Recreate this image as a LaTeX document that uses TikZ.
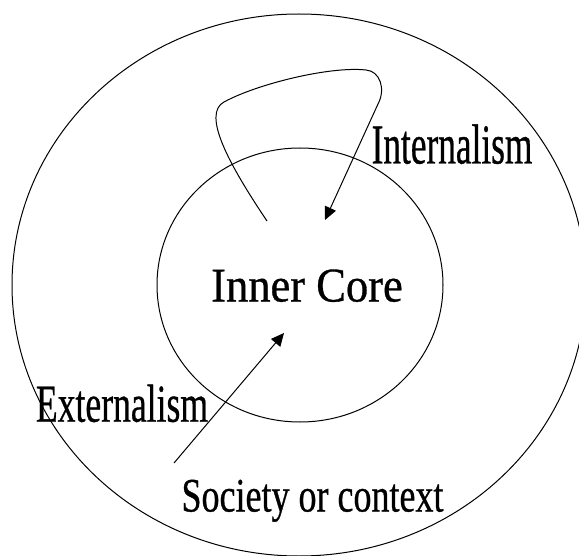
\documentclass[tikz,border=0pt]{standalone}
\usepackage{fontspec}
\setmainfont{Liberation Serif}
\newfontfamily\inkfont{Liberation Serif}[FakeBold=0.7]
\usepackage{graphicx}
\usepackage{tikz}
\usetikzlibrary{arrows.meta,shapes.geometric}
\newcommand{\narrowtext}[2]{\scalebox{#1}[1]{#2}}

\begin{document}
\begin{tikzpicture}[x=0.5pt, y=-0.5pt, line width=0.5pt,
  ring/.style={draw, ellipse, inner sep=0pt},
  word/.style={anchor=base, inner sep=0pt},
  arrow/.style={-{Triangle[length=6.5pt, width=6pt]}}]
  \clip (0,0) rectangle (579,556);
  \node[ring, minimum width=287pt, minimum height=271pt] (society) at (299,285) {};
  \node[ring, minimum width=143pt, minimum height=137pt] (core) at (300,285) {};
  \node[word, font=\inkfont\fontsize{24.2pt}{29pt}\selectfont] (corelabel) at (307,301.5) {\narrowtext{0.92}{Inner Core}};
  \node[word, font=\inkfont\fontsize{28.2pt}{34pt}\selectfont] (intlabel) at (452,163.5) {\narrowtext{0.626}{Internalism}};
  \node[word, font=\inkfont\fontsize{26.7pt}{32pt}\selectfont] (extlabel) at (122,421.7) {\narrowtext{0.667}{Externalism}};
  \node[word, font=\inkfont\fontsize{24pt}{29pt}\selectfont] (soclabel) at (312.5,511.5) {\narrowtext{0.75}{Society or context}};
  \coordinate (selfstart) at (267,221);
  \coordinate (selftip) at (325,220);
  \coordinate (extstart) at (174,463);
  \coordinate (exttip) at (284,333);
  \draw[arrow] (selfstart) .. controls (228,163) and (202,114) .. (224,102)
    .. controls (257,84) and (330,66) .. (366,70)
    .. controls (380,71) and (386,89) .. (378,104) -- (selftip);
  \draw[arrow] (extstart) -- (exttip);
\end{tikzpicture}
\end{document}
